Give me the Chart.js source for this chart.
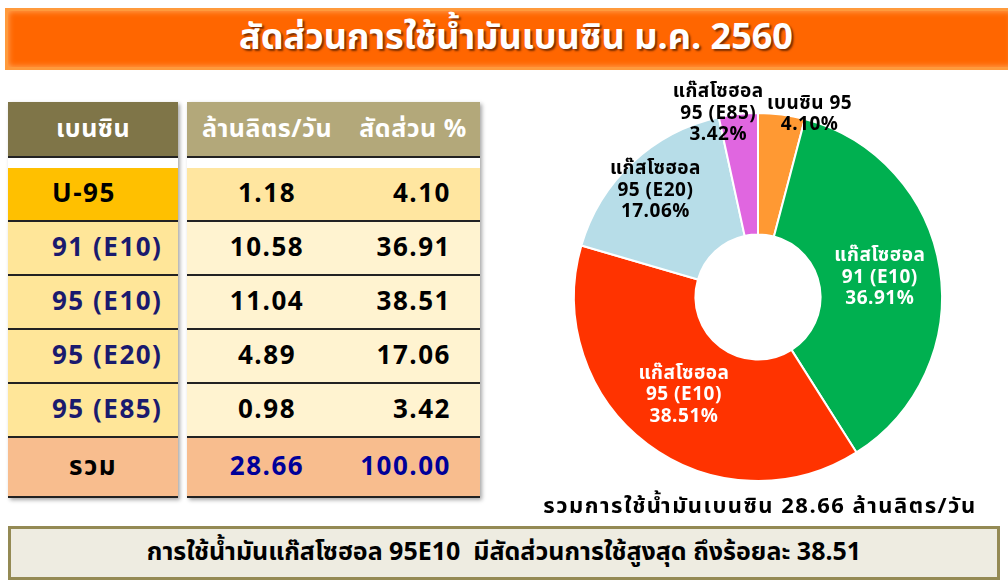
<!DOCTYPE html>
<html>
<head>
<meta charset="utf-8">
<script src="https://cdn.jsdelivr.net/npm/chart.js@4.4.1/dist/chart.umd.min.js"></script>
<style>
  body { margin: 0; width: 1008px; height: 582px; background: #fff; position: relative; overflow: hidden;
         font-family: Tahoma, "Noto Sans Thai", "Noto Sans", "DejaVu Sans", sans-serif; }
  .title { position: absolute; left: 5px; top: 8px; width: 1010px; height: 62px; box-sizing: border-box;
           background: #ff6600; border: 3px solid #ff9a3c; box-shadow: inset 0 0 6px #ffb066;
           color: #fff; font-weight: bold; font-size: 36px; text-align: center; line-height: 54px;
           padding-left: 12px; text-shadow: 2px 2px 2px #7a2e00; }
  .col { position: absolute; top: 102px; box-shadow: 2px 2px 4px rgba(0,0,0,0.35); }
  .cell { box-sizing: border-box; font-weight: bold; font-size: 26px; letter-spacing: 1.5px; display: flex; align-items: center; }
  .hdr { height: 56px; color: #fff; border-bottom: 2px solid #222; font-size: 25px; letter-spacing: 0.5px; }
  .row { border-bottom: 2px solid #222; height: 54px; }
  .gap { height: 10px; background: #fff; }
  .total { position: absolute; left: 530px; top: 490px; width: 460px; text-align: center;
           font-weight: bold; font-size: 22px; letter-spacing: 1.5px; color: #000; }
  .note { position: absolute; left: 8px; top: 526px; width: 992px; height: 54px; box-sizing: border-box;
          background: #eeece1; border: 3px solid #948a54; text-align: center; font-weight: bold;
          font-size: 25px; line-height: 47px; color: #000; }
  #chartBox { position: absolute; left: 530px; top: 70px; width: 456px; height: 454px; }
</style>
</head>
<body>
<div class="title">สัดส่วนการใช้น้ำมันเบนซิน ม.ค. 2560</div>
<div class="col" id="colLeft" style="left:8px; width:170px;"></div>
<div class="col" id="colRight" style="left:187px; width:293px;"></div>
<div id="chartBox"><canvas id="chartFuel"></canvas></div>
<div class="total">รวมการใช้น้ำมันเบนซิน 28.66 ล้านลิตร/วัน</div>
<div class="note">การใช้น้ำมันแก๊สโซฮอล 95E10&nbsp; มีสัดส่วนการใช้สูงสุด ถึงร้อยละ 38.51</div>

<script>
// table rows
const fuelNames = ['U-95', '91 (E10)', '95 (E10)', '95 (E20)', '95 (E85)'];
const litersPerDay = ['1.18', '10.58', '11.04', '4.89', '0.98'];
const sharePct = ['4.10', '36.91', '38.51', '17.06', '3.42'];
const totalLiters = '28.66';
const totalPct = '100.00';

// doughnut slices (clockwise from top)
const sliceLabels = [['เบนซิน 95'], ['แก๊สโซฮอล', '91 (E10)'], ['แก๊สโซฮอล', '95 (E10)'],
                     ['แก๊สโซฮอล', '95 (E20)'], ['แก๊สโซฮอล', '95 (E85)']];
const sliceValues = [4.10, 36.91, 38.51, 17.06, 3.42];
const sliceColors = ['#ff9933', '#00b050', '#ff3300', '#b7dde8', '#e066e0'];
const sliceTextColors = ['#000', '#fff', '#fff', '#000', '#000'];

function buildTable() {
    const left = document.getElementById('colLeft');
    const right = document.getElementById('colRight');
    let l = '<div class="cell hdr" style="background:#7f7548;justify-content:center;">เบนซิน</div><div class="gap"></div>';
    let r = '<div class="cell hdr" style="background:#b3a87a;"><span style="width:160px;text-align:center;">ล้านลิตร/วัน</span><span style="width:132px;text-align:center;">สัดส่วน %</span></div><div class="gap"></div>';
    fuelNames.forEach(function (name, i) {
        const lbg = i === 0 ? '#ffc000' : '#ffe699';
        const rbg = i === 0 ? '#ffe6a0' : '#fff3d0';
        const col = i === 0 ? '#000' : '#1a1a6e';
        l += '<div class="cell row" style="background:' + lbg + ';color:' + col + ';padding-left:44px;">' + name + '</div>';
        r += '<div class="cell row" style="background:' + rbg + ';color:#000;"><span style="width:160px;text-align:center;">' + litersPerDay[i] +
             '</span><span style="width:104px;text-align:right;">' + sharePct[i] + '</span></div>';
    });
    l += '<div class="cell row" style="background:#f8bd8e;height:60px;justify-content:center;color:#000;">รวม</div>';
    r += '<div class="cell row" style="background:#f8bd8e;height:60px;color:#000099;"><span style="width:160px;text-align:center;">' + totalLiters +
         '</span><span style="width:104px;text-align:right;">' + totalPct + '</span></div>';
    left.innerHTML = l;
    right.innerHTML = r;
}
buildTable();

// draws the slice labels, small slices go outside the ring
const sliceLabelPlugin = {
    id: 'sliceLabels',
    afterDatasetsDraw(chart) {
        const ctx = chart.ctx;
        const meta = chart.getDatasetMeta(0);
        ctx.save();
        ctx.font = 'bold 19px Tahoma, "Noto Sans Thai", "Noto Sans", sans-serif';
        ctx.letterSpacing = '0.5px';
        ctx.textAlign = 'center';
        ctx.textBaseline = 'middle';
        meta.data.forEach(function (arc, i) {
            const lines = sliceLabels[i].concat([sliceValues[i].toFixed(2) + '%']);
            const mid = (arc.startAngle + arc.endAngle) / 2;
            let x, y;
            if (sliceValues[i] < 5) {
                x = arc.x + Math.cos(mid) * arc.outerRadius + (Math.cos(mid) > 0 ? 28 : -20);
                y = arc.y + Math.sin(mid) * arc.outerRadius + 1;
            } else {
                const rr = sliceValues[i] < 20 ? 1.22 : 1.0;
                const r = (arc.innerRadius + arc.outerRadius) / 2 * rr;
                x = arc.x + Math.cos(mid) * r;
                y = arc.y + Math.sin(mid) * r + (sliceValues[i] < 20 ? 5 : 1);
            }
            ctx.fillStyle = sliceTextColors[i];
            const lh = 21.5;
            lines.forEach(function (t, k) {
                ctx.fillText(t, x, y + (k - (lines.length - 1) / 2) * lh);
            });
        });
        ctx.restore();
    }
};

const ctxFuel = document.getElementById('chartFuel').getContext('2d');
const fuelChart = new Chart(ctxFuel, {
    type: 'doughnut',
    data: {
        labels: sliceLabels.map(function (a) { return a.join(' '); }),
        datasets: [{
            data: sliceValues,
            backgroundColor: sliceColors,
            borderColor: '#ffffff',
            borderWidth: 2
        }]
    },
    options: {
        responsive: true,
        maintainAspectRatio: false,
        animation: false,
        cutout: '34%',
        layout: { padding: { top: 42, bottom: 42, left: 43, right: 43 } },
        plugins: {
            legend: { display: false },
            tooltip: { enabled: false }
        }
    },
    plugins: [sliceLabelPlugin]
});
</script>
</body>
</html>
